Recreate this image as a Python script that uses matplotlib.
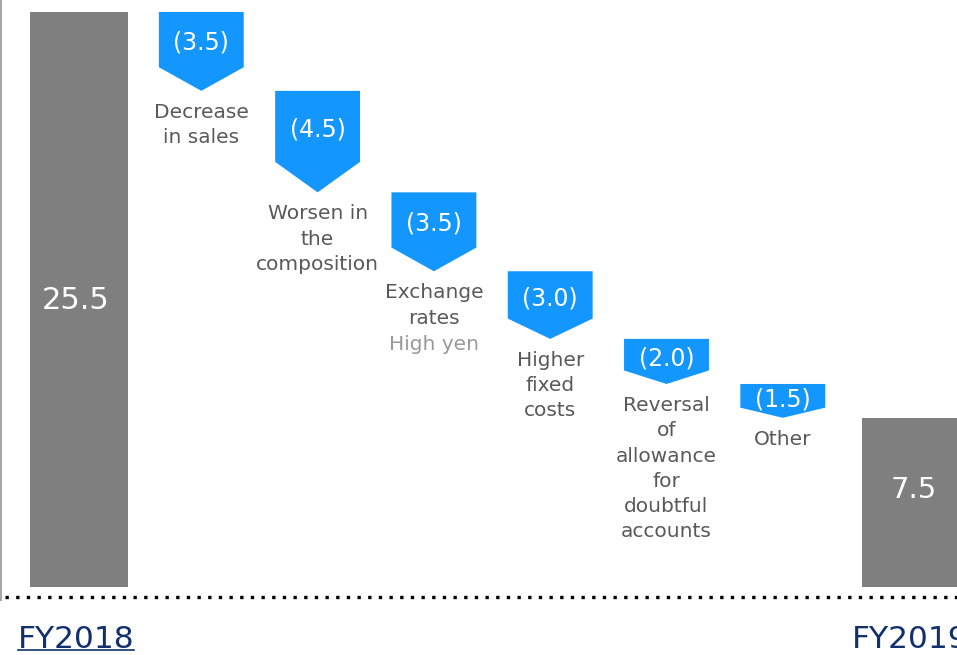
import matplotlib
matplotlib.use("Agg")
import matplotlib.pyplot as plt
from matplotlib.patches import Polygon, Rectangle

# waterfall data
start_value = 25.5
end_value = 7.5
changes = [-3.5, -4.5, -3.5, -3.0, -2.0, -1.5]
change_labels = ["(3.5)", "(4.5)", "(3.5)", "(3.0)", "(2.0)", "(1.5)"]
categories = ["Decrease\nin sales", "Worsen in\nthe\ncomposition", "Exchange\nrates",
              "Higher\nfixed\ncosts", "Reversal\nof\nallowance\nfor\ndoubtful\naccounts", "Other"]
sub_notes = ["", "", "High yen", "", "", ""]
period_labels = ["FY2018", "FY2019"]

GRAY = "#7f7f7f"
BLUE = "#1496ff"
TEXT = "#595959"
NAVY = "#13306e"

fig = plt.figure(figsize=(9.57, 6.55), dpi=100)
ax = fig.add_axes([0, 0, 1, 1])
XMIN, XMAX = -0.731, 7.498
ax.set_xlim(XMIN, XMAX)
ax.set_ylim(-3.02, 26.03)
ax.axis("off")

# start / end bars (slightly offset from the step grid like the original slide)
bw = 0.843
x_start, x_end = -0.05, 7.1
ax.add_patch(Rectangle((x_start - bw / 2, 0), bw, start_value, color=GRAY, lw=0))
ax.add_patch(Rectangle((x_end - bw / 2, 0), bw, end_value, color=GRAY, lw=0))
ax.text(x_start - 0.03, 12.7, f"{start_value:.1f}", color="white", fontsize=22, ha="center", va="center")
ax.text(x_end + 0.03, 4.3, f"{end_value:.1f}", color="white", fontsize=21, ha="center", va="center")

# arrows for decreases
aw = 0.73
level = start_value
for i, (d, lab, cat, note) in enumerate(zip(changes, change_labels, categories, sub_notes)):
    xi = i + 1
    top = level
    bot = level + d
    tri = abs(d) * 0.3
    pts = [(xi - aw / 2, top), (xi + aw / 2, top), (xi + aw / 2, bot + tri),
           (xi, bot), (xi - aw / 2, bot + tri)]
    ax.add_patch(Polygon(pts, closed=True, color=BLUE, lw=0))
    ax.text(xi, (top + bot + tri) / 2 - 0.15, lab, color="white", fontsize=17, ha="center", va="center")
    ax.annotate(cat, (xi, bot), xytext=(0, -12), textcoords="offset pixels",
                ha="center", va="top", fontsize=14.5, color=TEXT, linespacing=1.42)
    if note:
        nl = cat.count("\n") + 1
        ax.annotate(note, (xi, bot), xytext=(0, -12 - 26 * nl), textcoords="offset pixels",
                    ha="center", va="top", fontsize=14.5, color="#999999")
    level = bot

# dotted baseline
ax.plot([XMIN + 0.04, XMAX], [-0.44, -0.44], color="black", lw=2.4,
        linestyle=(0, (1, 2.2)), dash_capstyle="butt", solid_capstyle="butt")

# left border
ax.plot([XMIN + 0.008, XMIN + 0.008], [-0.6, 26.03], color="#a6a6a6", lw=1.5)

# period labels
ax.text(-0.578, -2.35, period_labels[0], color=NAVY, fontsize=22.5, ha="left", va="center")
ax.plot([-0.578, 0.42], [-2.82, -2.82], color=NAVY, lw=1.2)
ax.text(6.595, -2.35, period_labels[1], color=NAVY, fontsize=22.5, ha="left", va="center")

fig.savefig("out.png", dpi=100)
